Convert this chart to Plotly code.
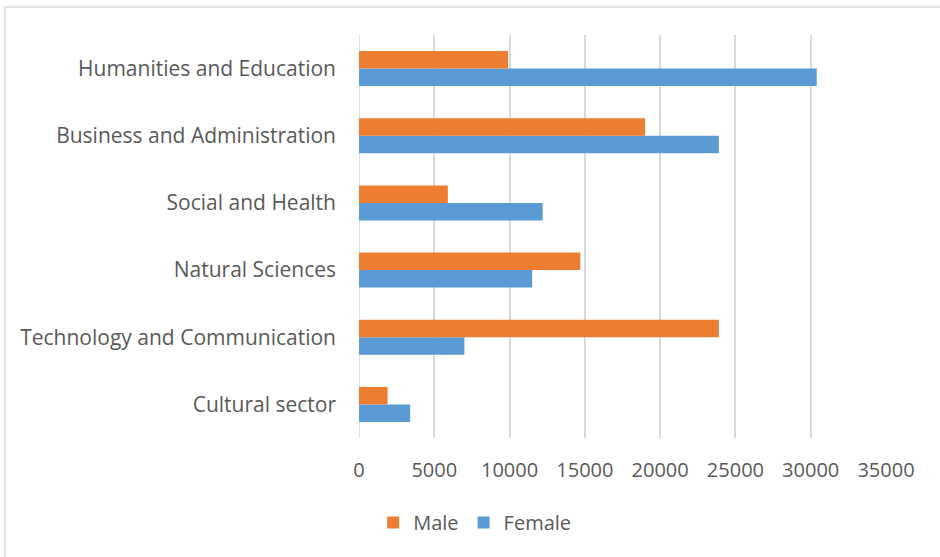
import plotly.graph_objects as go

# Graduates by field of study and gender
fields = [
    "Cultural sector",
    "Technology and Communication",
    "Natural Sciences",
    "Social and Health",
    "Business and Administration",
    "Humanities and Education",
]
male = [1900, 23900, 14700, 5900, 19000, 9900]
female = [3400, 7000, 11500, 12200, 23900, 30400]
x_ticks = [0, 5000, 10000, 15000, 20000, 25000, 30000, 35000]

W, H = 940, 557
ML, MR, MT, MB = 359, 54, 35, 119
PW, PH = W - ML - MR, H - MT - MB

TEXT = "#595959"
FONT = "'Open Sans', sans-serif"
FS = 21

fig = go.Figure()
# Female first so that Male sits above it inside each group
fig.add_trace(go.Bar(
    y=fields, x=female, name="Female", orientation="h",
    marker=dict(color="#5b9bd5", line=dict(width=0)), legendrank=2,
))
fig.add_trace(go.Bar(
    y=fields, x=male, name="Male", orientation="h",
    marker=dict(color="#ed7d31", line=dict(width=0)), legendrank=1,
))


def px_x(p):
    return (p - ML) / PW


def px_y(p):
    return 1 - (p - MT) / PH


# chart frame (left and top edges visible)
fig.add_shape(type="line", xref="paper", yref="paper",
              x0=px_x(5), x1=px_x(5), y0=px_y(7), y1=px_y(600),
              line=dict(color="#d9d9d9", width=1.5))
fig.add_shape(type="line", xref="paper", yref="paper",
              x0=px_x(5), x1=px_x(1000), y0=px_y(7), y1=px_y(7),
              line=dict(color="#d9d9d9", width=1.5))

fig.update_layout(
    width=W, height=H,
    margin=dict(l=ML, r=MR, t=MT, b=MB),
    paper_bgcolor="white", plot_bgcolor="white",
    barmode="group", bargap=0.48, bargroupgap=0,
    font=dict(family=FONT, size=FS, color=TEXT),
    showlegend=True,
    legend=dict(
        orientation="h", xref="container", yref="container",
        x=0.505, xanchor="center", y=0.062, yanchor="middle",
        font=dict(size=FS - 1, color=TEXT), itemwidth=30,
        traceorder="normal",
    ),
    xaxis=dict(
        range=[0, 35000], tickvals=x_ticks,
        ticktext=[str(v) for v in x_ticks],
        showgrid=True, gridcolor="#d9d9d9", gridwidth=1.5,
        zeroline=False, showline=False, ticks="",
        tickfont=dict(size=FS - 1, color=TEXT), ticklabelstandoff=18,
    ),
    yaxis=dict(
        categoryorder="array", categoryarray=fields,
        showgrid=False, zeroline=False, showline=False, ticks="",
        tickfont=dict(size=FS, color=TEXT), ticklabelstandoff=22,
    ),
)

fig.add_shape(type="line", xref="x", yref="paper", x0=0, x1=0, y0=0, y1=1,
              line=dict(color="#d9d9d9", width=1.5), layer="below")

fig.write_html("out.html")
